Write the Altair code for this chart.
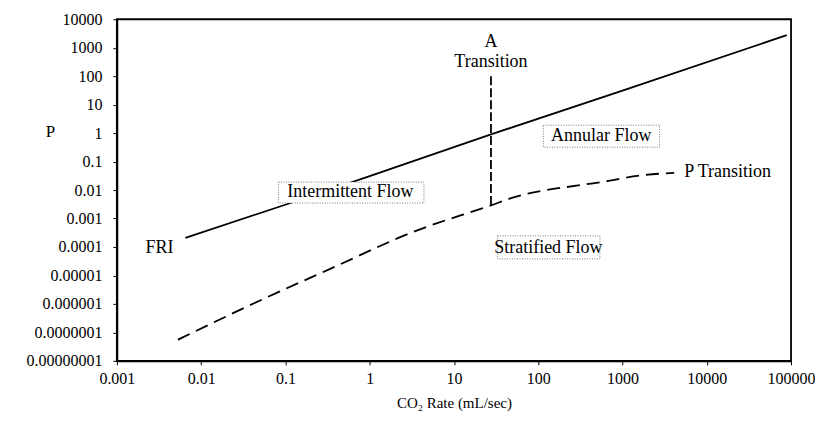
import altair as alt
import pandas as pd

# FRI line (solid)
fri_rate = [0.0065, 0.115, 1.0, 27.5, 1000, 89000]
fri_p = [0.00021, 0.0035, 0.031, 0.9, 31, 2750]

# P Transition (dashed curve)
pt_rate = [0.0053, 0.055, 0.34, 3.3, 27.5, 51, 320, 560, 1700, 4100]
pt_p = [5.5e-8, 1.5e-6, 1.7e-5, 3.4e-4, 0.0029, 0.0055, 0.015, 0.019, 0.033, 0.04]

# A Transition (vertical dashed)
a_rate = [27.5]
a_p_top = [100]
a_p_bottom = [0.0029]

# Region labels (boxed) in data coordinates
box_labels = ["Intermittent Flow", "Annular Flow", "Stratified Flow"]
box_rate = [0.59, 560, 132]
box_p = [0.0082, 0.78, 9.5e-5]
box_rate_lo = [0.0826, 115, 33]
box_rate_hi = [4.4, 2750, 540]
box_p_lo = [0.0035, 0.32, 3.8e-5]
box_p_hi = [0.019, 1.9, 2.45e-4]

# Plain labels
plain_labels = ["FRI", "A", "Transition"]
plain_rate = [0.0032, 27.5, 27.5]
plain_p = [9e-5, 1550, 310]

pt_label = ["P Transition"]
pt_label_rate = [5400]
pt_label_p = [0.043]

x_ticks = [0.001, 0.01, 0.1, 1, 10, 100, 1000, 10000, 100000]
y_ticks = [1e-8, 1e-7, 1e-6, 1e-5, 1e-4, 1e-3, 1e-2, 1e-1, 1, 10, 100, 1000, 10000]

FONT = "Liberation Serif"

xscale = alt.Scale(type="log", domain=[0.001, 100000], nice=False)
yscale = alt.Scale(type="log", domain=[1e-8, 10000], nice=False)

xaxis = alt.Axis(values=x_ticks, labelExpr="format(datum.value, '.3~f')",
                 title="CO₂ Rate (mL/sec)", grid=False, tickSize=4,
                 labelPadding=6, titlePadding=9, labelFlush=False,
                 labelOverlap=False, titleFontSize=15)
yaxis = alt.Axis(values=y_ticks, labelExpr="format(datum.value, '.8~f')",
                 title="P", titleAngle=0, titleX=-67, titleY=112,
                 titleBaseline="middle", titleAlign="center",
                 grid=False, tickSize=4, labelPadding=11, labelFlush=False,
                 labelOverlap=False, titleFontSize=17)

fri_df = pd.DataFrame({"rate": fri_rate, "p": fri_p})
pt_df = pd.DataFrame({"rate": pt_rate, "p": pt_p})
a_df = pd.DataFrame({"rate": a_rate, "top": a_p_top, "bottom": a_p_bottom})
box_df = pd.DataFrame({"label": box_labels, "rate": box_rate, "p": box_p,
                       "r0": box_rate_lo, "r1": box_rate_hi,
                       "p0": box_p_lo, "p1": box_p_hi})
plain_df = pd.DataFrame({"label": plain_labels, "rate": plain_rate, "p": plain_p})
ptl_df = pd.DataFrame({"label": pt_label, "rate": pt_label_rate, "p": pt_label_p})

fri = alt.Chart(fri_df).mark_line(color="black", strokeWidth=1.8).encode(
    x=alt.X("rate:Q", scale=xscale, axis=xaxis),
    y=alt.Y("p:Q", scale=yscale, axis=yaxis),
)

pt = alt.Chart(pt_df).mark_line(color="black", strokeWidth=1.8, strokeDash=[13, 7],
                                 interpolate="monotone").encode(
    x=alt.X("rate:Q", scale=xscale),
    y=alt.Y("p:Q", scale=yscale),
)

arule = alt.Chart(a_df).mark_rule(color="black", strokeWidth=1.8, strokeDash=[9, 3]).encode(
    x=alt.X("rate:Q", scale=xscale),
    y=alt.Y("top:Q", scale=yscale),
    y2="bottom:Q",
)

boxes = alt.Chart(box_df).mark_rect(fill="white", stroke="#777777", strokeWidth=1,
                                     strokeDash=[1, 1.5]).encode(
    x=alt.X("r0:Q", scale=xscale),
    x2="r1:Q",
    y=alt.Y("p0:Q", scale=yscale),
    y2="p1:Q",
)

box_text = alt.Chart(box_df).mark_text(font=FONT, fontSize=18, color="black",
                                        align="center", baseline="middle").encode(
    x=alt.X("rate:Q", scale=xscale),
    y=alt.Y("p:Q", scale=yscale),
    text="label:N",
)

plain_text = alt.Chart(plain_df).mark_text(font=FONT, fontSize=18, color="black",
                                            align="center", baseline="middle").encode(
    x=alt.X("rate:Q", scale=xscale),
    y=alt.Y("p:Q", scale=yscale),
    text="label:N",
)

ptl_text = alt.Chart(ptl_df).mark_text(font=FONT, fontSize=18, color="black",
                                        align="left", baseline="middle").encode(
    x=alt.X("rate:Q", scale=xscale),
    y=alt.Y("p:Q", scale=yscale),
    text="label:N",
)

chart = alt.layer(fri, pt, arule, boxes, box_text, plain_text, ptl_text).properties(
    width=675, height=342,
    padding={"left": 109, "top": 11, "right": 24, "bottom": 59},
    autosize=alt.AutoSizeParams(type="none"),
    background="white",
).configure_view(
    stroke="black", strokeWidth=1.8
).configure_axis(
    labelFont=FONT, titleFont=FONT, labelFontSize=16, titleFontSize=18,
    labelColor="black", titleColor="black", titleFontWeight="normal",
    domainColor="black", domainWidth=1.8, tickColor="black", tickWidth=1,
)

chart.save("out.html", embed_options={"renderer": "svg", "actions": False})
